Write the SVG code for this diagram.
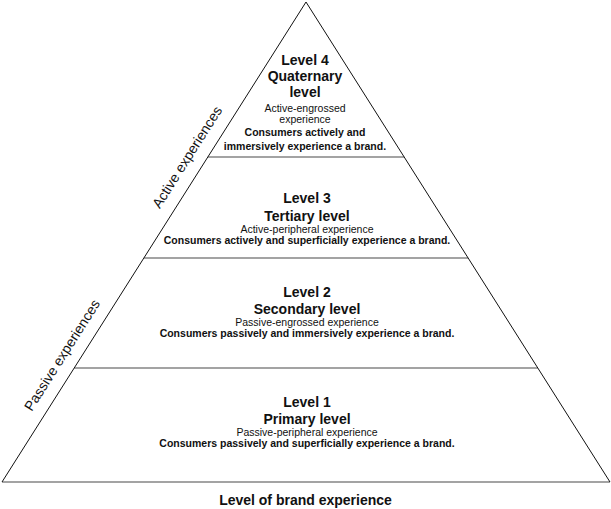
<svg xmlns="http://www.w3.org/2000/svg" width="611" height="509" viewBox="0 0 611 509">
<style>
.t{font-family:"Liberation Sans",Arial,sans-serif;fill:#111;text-anchor:middle}
.h{font-size:14px;font-weight:bold}
.s{font-size:10.5px}
.d{font-size:10.5px;font-weight:bold}
.side{font-family:"Liberation Sans",Arial,sans-serif;font-size:14px;fill:#111;text-anchor:middle}
.sep{stroke:#a3a3a3;stroke-width:2;fill:none}
.edge{stroke:#111;stroke-width:1;fill:none}
</style>
<rect width="611" height="509" fill="#fff"/>
<g id="connectors">
<line class="sep" x1="207.8" y1="157" x2="404.2" y2="157"/>
<line class="sep" x1="143.9" y1="258" x2="468.1" y2="258"/>
<line class="sep" x1="74.2" y1="368" x2="537.8" y2="368"/>
<line class="sep" x1="2" y1="482" x2="610" y2="482"/>
<polyline class="edge" points="2,482 306,2 610,482"/>
</g>
<g id="level4">
<text class="t h" x="305" y="65">Level 4</text>
<text class="t h" x="305" y="81">Quaternary</text>
<text class="t h" x="305" y="97">level</text>
<text class="t s" x="305" y="112">Active-engrossed</text>
<text class="t s" x="305" y="123">experience</text>
<text class="t d" x="305" y="136">Consumers actively and</text>
<text class="t d" x="305" y="150">immersively experience a brand.</text>
</g>
<g id="level3">
<text class="t h" x="307" y="203">Level 3</text>
<text class="t h" x="307" y="221">Tertiary level</text>
<text class="t s" x="307" y="233">Active-peripheral experience</text>
<text class="t d" x="307" y="244">Consumers actively and superficially experience a brand.</text>
</g>
<g id="level2">
<text class="t h" x="307" y="297">Level 2</text>
<text class="t h" x="307" y="314">Secondary level</text>
<text class="t s" x="307" y="326">Passive-engrossed experience</text>
<text class="t d" x="307" y="337">Consumers passively and immersively experience a brand.</text>
</g>
<g id="level1">
<text class="t h" x="307" y="407">Level 1</text>
<text class="t h" x="307" y="424">Primary level</text>
<text class="t s" x="307" y="436">Passive-peripheral experience</text>
<text class="t d" x="307" y="447">Consumers passively and superficially experience a brand.</text>
</g>
<g id="active">
<text class="side" transform="translate(187,157) rotate(-57.65)" x="0" y="5">Active experiences</text>
</g>
<g id="passive">
<text class="side" transform="translate(62,355) rotate(-57.65)" x="0" y="5">Passive experiences</text>
</g>
<g id="axis">
<text class="t h" x="305.5" y="505">Level of brand experience</text>
</g>
</svg>
